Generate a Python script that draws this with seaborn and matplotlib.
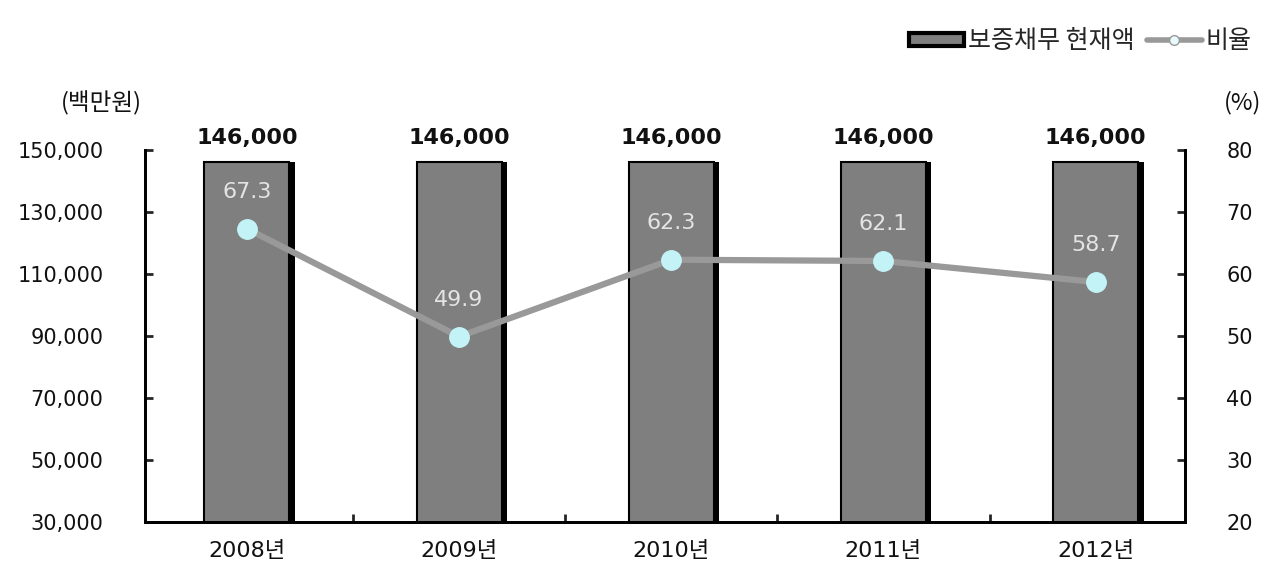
import matplotlib
matplotlib.use("Agg")
import matplotlib.pyplot as plt
import matplotlib.patheffects as pe
from matplotlib.lines import Line2D
from matplotlib.patches import Patch
import seaborn as sns
import pandas as pd

years = ["2008년", "2009년", "2010년", "2011년", "2012년"]
guarantee = [146000, 146000, 146000, 146000, 146000]
ratio = [67.3, 49.9, 62.3, 62.1, 58.7]
left_ticks = [30000, 50000, 70000, 90000, 110000, 130000, 150000]
right_ticks = [20, 30, 40, 50, 60, 70, 80]

sns.set_style("white")
plt.rcParams['font.family'] = ['DejaVu Sans', 'Noto Sans CJK KR']
CJK = ['Noto Sans CJK KR', 'DejaVu Sans']

df = pd.DataFrame({"year": years, "guarantee": guarantee, "ratio": ratio})

fig = plt.figure(figsize=(12.78, 5.69), dpi=100)
ax = fig.add_axes([0.1135, 0.0826, 0.8135, 0.6538])

sns.barplot(data=df, x="year", y="guarantee", ax=ax, color="#7f7f7f",
            width=0.4, edgecolor="black", linewidth=1.5, saturation=1)
for p in ax.patches:
    p.set_path_effects([pe.SimplePatchShadow(offset=(4, 0), shadow_rgbFace="black", alpha=1.0), pe.Normal()])

ax.set_ylim(30000, 150000)
ax.set_yticks(left_ticks)
ax.set_yticklabels([f"{v:,}" for v in left_ticks], fontsize=15, color="#111111")
ax.set_xlabel("")
ax.set_ylabel("")
ax.tick_params(axis="x", labelsize=16, length=0, pad=14, labelcolor="#111111")
ax.tick_params(axis="y", direction="in", length=6, width=2, pad=30, left=True)

for i, v in enumerate(guarantee):
    ax.text(i, v + 4800, f"{v:,}", ha="center", va="bottom", fontsize=16,
            fontweight="bold", color="#111111")

ax2 = ax.twinx()
sns.pointplot(data=df, x="year", y="ratio", ax=ax2, color="#999999", markers="o",
              linewidth=4.5, markersize=0)
ax2.plot(range(len(years)), ratio, linestyle="none", marker="o", markersize=14,
         markerfacecolor="#c4f3f7", markeredgecolor="#c4f3f7", zorder=5)
ax2.set_ylim(20, 80)
ax2.set_yticks(right_ticks)
ax2.set_yticklabels([str(v) for v in right_ticks], fontsize=15, color="#111111")
ax2.set_ylabel("")
ax2.tick_params(axis="y", direction="in", length=6, width=2, pad=30, right=True)
for i, v in enumerate(ratio):
    ax2.text(i, v + 4.3, f"{v}", ha="center", va="bottom", fontsize=16, color="#e4e4e4")

ax.set_xlim(-0.48, 4.42)
ax2.set_xlim(-0.48, 4.42)

# minor ticks between categories
ax.set_xticks([i + 0.5 for i in range(len(years) - 1)], minor=True)
ax.tick_params(axis="x", which="minor", direction="in", length=6, width=2, bottom=True)

for a in (ax, ax2):
    a.spines["top"].set_visible(False)
    for s in ["left", "right", "bottom"]:
        a.spines[s].set_linewidth(2)
        a.spines[s].set_color("black")

fig.text(0.079, 0.819, "(백만원)", ha="center", va="center", fontsize=17, family=CJK, color="#111111")
fig.text(0.972, 0.819, "(%)", ha="center", va="center", fontsize=17, family=CJK, color="#111111")

handles = [Patch(facecolor="#7f7f7f", edgecolor="black", linewidth=3, label="보증채무 현재액"),
           Line2D([0], [0], color="#999999", linewidth=4, marker="o", markersize=7,
                  markerfacecolor="#e8fbfc", markeredgecolor="#999999", label="비율")]
fig.legend(handles=handles, loc="upper right", bbox_to_anchor=(0.997, 0.99), ncol=2,
           frameon=False, prop={"family": CJK, "size": 18}, handlelength=2.2, handleheight=0.45,
           columnspacing=0.5, handletextpad=0.15)

fig.savefig("out.png", dpi=100, facecolor="white")
